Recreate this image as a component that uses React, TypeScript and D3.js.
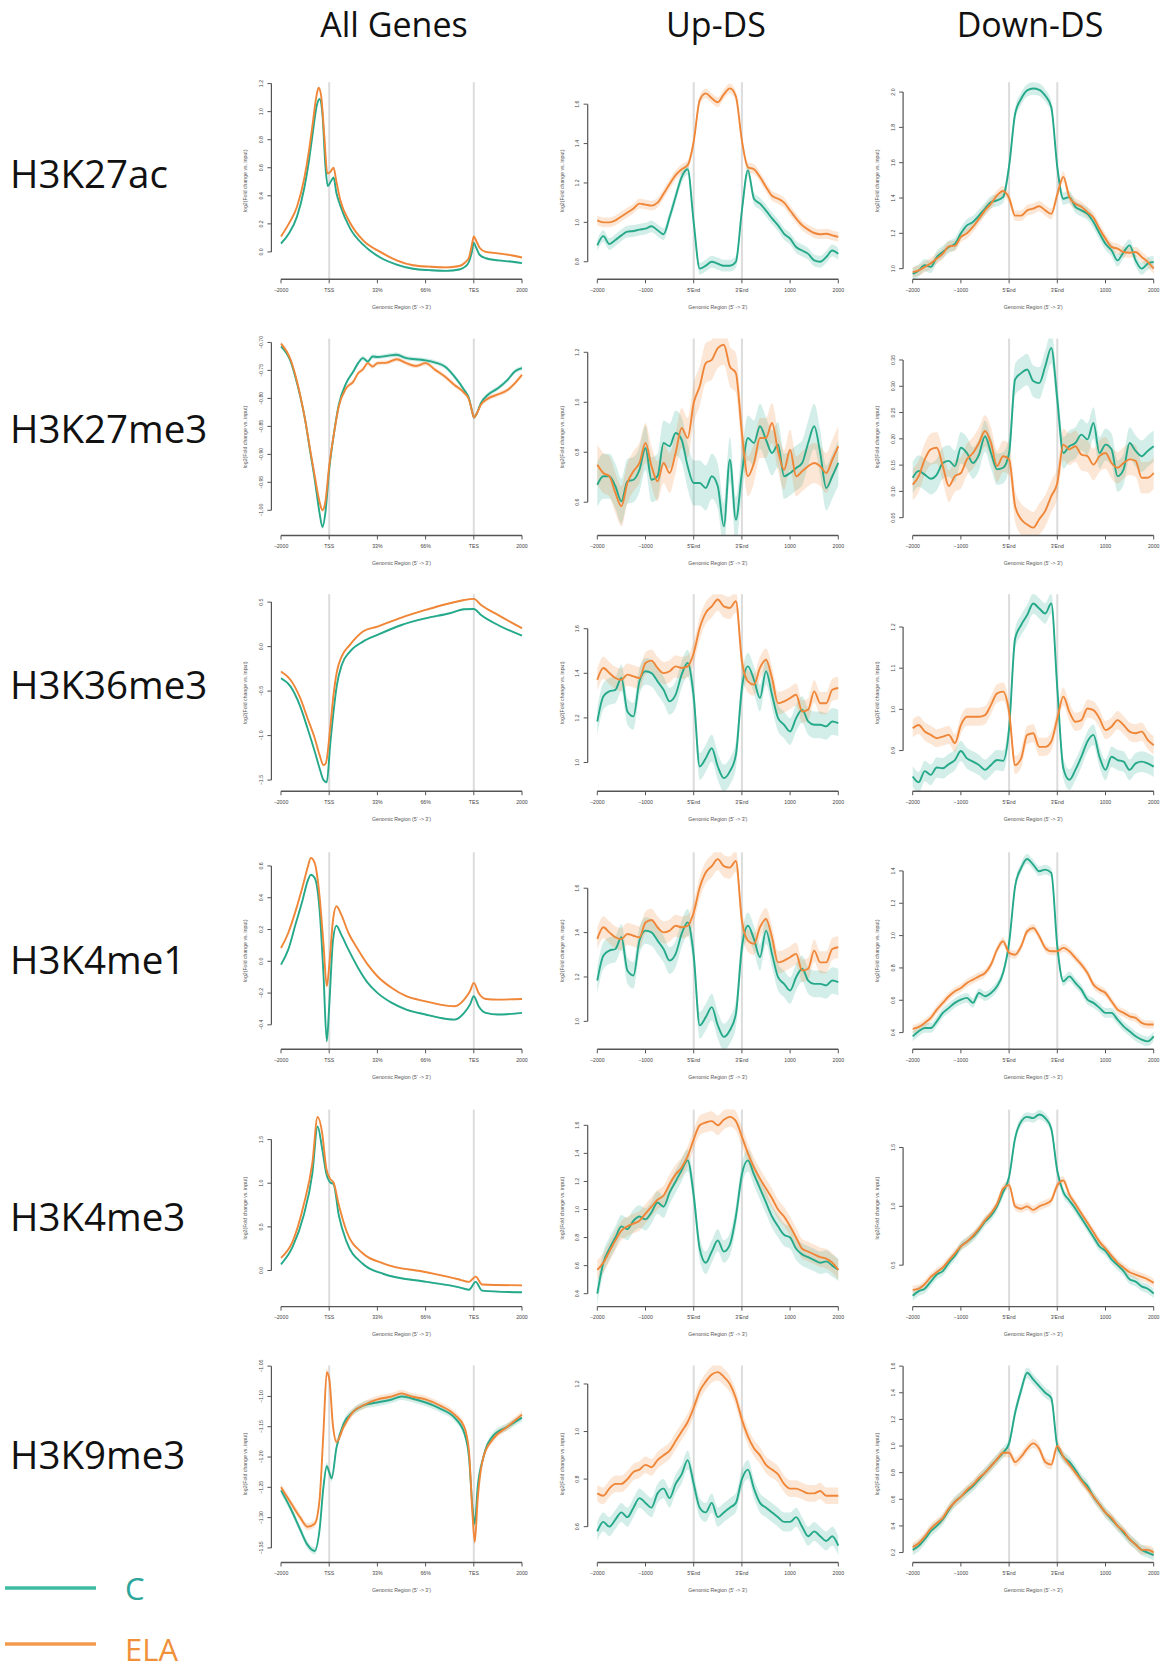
import React from "react";
import * as d3 from "d3";

type Pair = [number, number];

// Horizontal positions are in region units: 0 = -2000 bp, 1 = TSS / 5'End,
// 4 = TES / 3'End (all genes) or 3 = 3'End (flank panels), 5 = +2000 bp.
const MARKS = ["H3K27ac", "H3K27me3", "H3K36me3", "H3K4me1", "H3K4me3", "H3K9me3"];
const GROUPS = ["All Genes", "Up-DS", "Down-DS"];
const SAMPLES = ["C", "ELA"];
const ALL_GENES_TICKS = ["\u22122000", "TSS", "33%", "66%", "TES", "2000"];
const FLANK_TICKS = ["\u22122000", "\u22121000", "5'End", "3'End", "1000", "2000"];
const ALL_GENES_LINES = [1, 4];
const FLANK_LINES = [2, 3];

// ---------- All genes profiles (position, log2 FC) ----------
const H3K27ac_all_C: Pair[] = [[0,0.06],[0.16,0.13],[0.33,0.25],[0.48,0.45],[0.58,0.65],[0.66,0.85],[0.74,1.04],[0.8,1.09],[0.86,0.98],[0.92,0.62],[0.97,0.47],[1.03,0.5],[1.09,0.53],[1.15,0.42],[1.23,0.33],[1.43,0.17],[1.71,0.05],[2.06,-0.04],[2.4,-0.09],[2.74,-0.12],[3.09,-0.13],[3.43,-0.135],[3.7,-0.125],[3.82,-0.105],[3.9,-0.07],[3.96,0.0],[4.0,0.065],[4.05,0.03],[4.12,-0.02],[4.25,-0.045],[4.5,-0.06],[4.8,-0.07],[5.0,-0.08]];
const H3K27ac_all_ELA: Pair[] = [[0,0.11],[0.16,0.2],[0.33,0.32],[0.48,0.52],[0.58,0.72],[0.66,0.92],[0.73,1.1],[0.78,1.17],[0.83,1.12],[0.9,0.82],[0.96,0.56],[1.02,0.57],[1.09,0.6],[1.15,0.5],[1.23,0.37],[1.43,0.21],[1.71,0.08],[2.06,0.0],[2.4,-0.06],[2.74,-0.095],[3.09,-0.105],[3.43,-0.11],[3.7,-0.1],[3.82,-0.075],[3.9,-0.04],[3.96,0.05],[4.0,0.11],[4.05,0.08],[4.12,0.03],[4.25,0.0],[4.5,-0.01],[4.8,-0.025],[5.0,-0.04]];

const H3K27me3_all_C: Pair[] = [[0,-0.707],[0.2,-0.734],[0.35,-0.779],[0.5,-0.838],[0.6,-0.892],[0.7,-0.945],[0.8,-1.005],[0.86,-1.03],[0.92,-1.005],[1.0,-0.927],[1.1,-0.862],[1.2,-0.811],[1.35,-0.773],[1.5,-0.752],[1.6,-0.737],[1.7,-0.728],[1.8,-0.734],[1.9,-0.725],[2.0,-0.726],[2.2,-0.724],[2.4,-0.722],[2.6,-0.728],[2.8,-0.73],[3.0,-0.732],[3.2,-0.736],[3.4,-0.743],[3.6,-0.761],[3.8,-0.785],[3.9,-0.8],[3.97,-0.825],[4.0,-0.834],[4.05,-0.829],[4.15,-0.808],[4.3,-0.793],[4.5,-0.782],[4.7,-0.767],[4.85,-0.752],[5.0,-0.746]];
const H3K27me3_all_ELA: Pair[] = [[0,-0.702],[0.2,-0.731],[0.35,-0.776],[0.5,-0.838],[0.6,-0.889],[0.7,-0.939],[0.8,-0.985],[0.86,-1.0],[0.92,-0.985],[1.0,-0.921],[1.1,-0.862],[1.2,-0.814],[1.35,-0.782],[1.5,-0.77],[1.6,-0.755],[1.7,-0.748],[1.8,-0.737],[1.9,-0.743],[2.0,-0.737],[2.2,-0.736],[2.4,-0.73],[2.6,-0.737],[2.8,-0.742],[3.0,-0.737],[3.2,-0.749],[3.4,-0.761],[3.6,-0.776],[3.8,-0.79],[3.9,-0.802],[3.97,-0.825],[4.0,-0.834],[4.05,-0.829],[4.15,-0.811],[4.3,-0.8],[4.5,-0.793],[4.7,-0.785],[4.85,-0.773],[5.0,-0.758]];

const H3K36me3_all_C: Pair[] = [[0,-0.356],[0.2,-0.45],[0.4,-0.674],[0.55,-0.918],[0.7,-1.18],[0.8,-1.367],[0.88,-1.498],[0.95,-1.524],[1.02,-1.105],[1.09,-0.73],[1.16,-0.43],[1.26,-0.206],[1.43,-0.056],[1.7,0.056],[2.0,0.131],[2.5,0.243],[3.0,0.318],[3.5,0.375],[3.8,0.42],[4.0,0.423],[4.15,0.356],[4.5,0.243],[5.0,0.124]];
const H3K36me3_all_ELA: Pair[] = [[0,-0.28],[0.2,-0.375],[0.4,-0.58],[0.55,-0.805],[0.7,-1.03],[0.8,-1.217],[0.88,-1.33],[0.93,-1.31],[1.02,-0.92],[1.09,-0.54],[1.16,-0.28],[1.26,-0.11],[1.43,0.02],[1.7,0.169],[2.0,0.225],[2.5,0.326],[3.0,0.412],[3.5,0.487],[3.8,0.524],[4.0,0.536],[4.15,0.468],[4.5,0.356],[5.0,0.206]];

const H3K4me1_all_C: Pair[] = [[0,-0.021],[0.15,0.073],[0.3,0.231],[0.45,0.388],[0.55,0.503],[0.62,0.545],[0.7,0.524],[0.8,0.325],[0.88,-0.073],[0.95,-0.503],[1.0,-0.283],[1.08,0.136],[1.15,0.224],[1.25,0.168],[1.4,0.073],[1.6,-0.042],[1.8,-0.136],[2.0,-0.199],[2.3,-0.262],[2.6,-0.304],[3.0,-0.335],[3.3,-0.356],[3.6,-0.367],[3.8,-0.325],[3.92,-0.273],[4.0,-0.22],[4.1,-0.283],[4.25,-0.325],[4.5,-0.335],[5.0,-0.325]];
const H3K4me1_all_ELA: Pair[] = [[0,0.084],[0.15,0.178],[0.3,0.314],[0.45,0.472],[0.55,0.587],[0.62,0.65],[0.7,0.618],[0.8,0.409],[0.88,0.115],[0.95,-0.157],[1.0,-0.031],[1.08,0.262],[1.15,0.346],[1.25,0.294],[1.4,0.178],[1.6,0.073],[1.8,-0.021],[2.0,-0.094],[2.3,-0.168],[2.6,-0.22],[3.0,-0.252],[3.3,-0.273],[3.6,-0.283],[3.8,-0.241],[3.92,-0.189],[4.0,-0.136],[4.1,-0.2],[4.25,-0.237],[4.5,-0.241],[5.0,-0.237]];

const H3K4me3_all_C: Pair[] = [[0,0.07],[0.24,0.27],[0.47,0.63],[0.65,1.11],[0.76,1.65],[0.85,1.41],[0.94,1.11],[1.02,1.01],[1.09,0.99],[1.2,0.63],[1.36,0.33],[1.69,0.08],[2.13,-0.04],[3.02,-0.13],[3.68,-0.19],[3.9,-0.22],[4.04,-0.13],[4.17,-0.23],[5.0,-0.25]];
const H3K4me3_all_ELA: Pair[] = [[0,0.145],[0.24,0.33],[0.47,0.75],[0.65,1.23],[0.76,1.76],[0.85,1.59],[0.94,1.17],[1.02,1.05],[1.09,1.01],[1.2,0.75],[1.36,0.45],[1.69,0.2],[2.13,0.08],[3.02,-0.02],[3.68,-0.1],[3.9,-0.13],[4.04,-0.07],[4.17,-0.16],[5.0,-0.17]];

const H3K9me3_all_C: Pair[] = [[0,-1.255],[0.2,-1.285],[0.4,-1.32],[0.55,-1.345],[0.7,-1.355],[0.8,-1.32],[0.88,-1.25],[0.95,-1.215],[1.0,-1.225],[1.05,-1.235],[1.15,-1.185],[1.3,-1.145],[1.5,-1.125],[1.7,-1.115],[2.0,-1.11],[2.3,-1.105],[2.5,-1.1],[2.7,-1.103],[3.0,-1.11],[3.3,-1.12],[3.6,-1.135],[3.8,-1.16],[3.9,-1.2],[3.97,-1.28],[4.02,-1.31],[4.08,-1.25],[4.2,-1.2],[4.4,-1.165],[4.7,-1.15],[5.0,-1.135]];
const H3K9me3_all_ELA: Pair[] = [[0,-1.25],[0.2,-1.275],[0.4,-1.3],[0.55,-1.315],[0.7,-1.31],[0.8,-1.27],[0.88,-1.16],[0.95,-1.06],[1.0,-1.07],[1.08,-1.15],[1.15,-1.175],[1.3,-1.15],[1.5,-1.125],[1.7,-1.115],[2.0,-1.105],[2.3,-1.1],[2.5,-1.095],[2.7,-1.1],[3.0,-1.105],[3.3,-1.115],[3.6,-1.13],[3.8,-1.15],[3.9,-1.19],[3.97,-1.29],[4.02,-1.34],[4.08,-1.27],[4.2,-1.2],[4.4,-1.17],[4.7,-1.15],[5.0,-1.13]];

// ---------- Flank profiles: 41 samples, one every 0.125 region units ----------
const H3K27ac_up_C = [0.883,0.93,0.89,0.91,0.934,0.953,0.956,0.963,0.968,0.98,0.96,0.94,1.027,1.13,1.23,1.27,1.0,0.765,0.78,0.8,0.79,0.78,0.78,0.8,1.06,1.264,1.12,1.095,1.06,1.02,0.985,0.942,0.917,0.875,0.857,0.84,0.807,0.8,0.824,0.857,0.84];
const H3K27ac_up_ELA = [1.01,1.0,1.0,1.01,1.03,1.05,1.07,1.095,1.09,1.085,1.1,1.145,1.195,1.24,1.27,1.29,1.41,1.62,1.655,1.63,1.61,1.65,1.68,1.64,1.415,1.28,1.27,1.23,1.18,1.135,1.12,1.1,1.06,1.02,0.985,0.963,0.946,0.94,0.942,0.934,0.926];
const H3K27ac_down_C = [0.97,0.99,1.02,1.01,1.066,1.094,1.123,1.14,1.2,1.245,1.264,1.3,1.34,1.377,1.387,1.405,1.58,1.877,1.962,2.01,2.02,2.013,1.98,1.915,1.575,1.396,1.405,1.35,1.33,1.31,1.264,1.2,1.14,1.104,1.047,1.094,1.132,1.047,1.0,1.028,1.038];
const H3K27ac_down_ELA = [0.98,0.99,1.01,1.03,1.057,1.085,1.126,1.13,1.18,1.2,1.236,1.283,1.33,1.368,1.415,1.44,1.4,1.3,1.3,1.33,1.34,1.353,1.33,1.31,1.42,1.52,1.405,1.368,1.35,1.32,1.29,1.226,1.17,1.123,1.113,1.094,1.09,1.094,1.066,1.038,1.0];

const H3K27me3_up_C = [0.67,0.704,0.704,0.664,0.604,0.684,0.69,0.73,0.817,0.69,0.704,0.837,0.824,0.877,0.85,0.744,0.677,0.677,0.657,0.704,0.664,0.504,0.77,0.53,0.717,0.857,0.837,0.904,0.85,0.797,0.83,0.704,0.717,0.737,0.757,0.837,0.904,0.797,0.657,0.704,0.757];
const H3K27me3_up_ELA = [0.75,0.717,0.704,0.637,0.584,0.677,0.724,0.757,0.837,0.744,0.684,0.757,0.717,0.797,0.897,0.857,0.997,1.064,1.157,1.17,1.217,1.23,1.144,1.117,0.877,0.704,0.757,0.857,0.857,0.917,0.804,0.73,0.81,0.704,0.724,0.744,0.757,0.744,0.717,0.77,0.824];
const H3K27me3_down_C = [0.126,0.139,0.132,0.124,0.132,0.154,0.158,0.148,0.183,0.173,0.154,0.17,0.205,0.173,0.142,0.145,0.173,0.313,0.325,0.332,0.31,0.306,0.338,0.373,0.275,0.173,0.186,0.192,0.208,0.199,0.23,0.173,0.189,0.18,0.129,0.142,0.192,0.177,0.167,0.177,0.186];
const H3K27me3_down_ELA = [0.113,0.129,0.161,0.18,0.183,0.148,0.11,0.129,0.135,0.161,0.173,0.192,0.215,0.192,0.148,0.167,0.161,0.072,0.047,0.037,0.031,0.047,0.063,0.091,0.116,0.189,0.18,0.186,0.17,0.167,0.151,0.167,0.173,0.154,0.145,0.154,0.161,0.158,0.126,0.126,0.135];

const H3K36me3_up_C = [1.184,1.296,1.319,1.326,1.379,1.229,1.207,1.364,1.409,1.401,1.364,1.326,1.274,1.304,1.394,1.446,1.296,0.982,1.019,1.064,0.982,0.93,0.96,1.034,1.334,1.431,1.371,1.289,1.409,1.304,1.199,1.169,1.139,1.199,1.237,1.184,1.169,1.169,1.162,1.184,1.177];
const H3K36me3_up_ELA = [1.371,1.424,1.401,1.379,1.371,1.394,1.386,1.379,1.446,1.457,1.424,1.401,1.409,1.431,1.424,1.431,1.491,1.603,1.671,1.7,1.731,1.7,1.693,1.723,1.454,1.364,1.349,1.424,1.461,1.379,1.266,1.274,1.289,1.304,1.229,1.237,1.319,1.266,1.266,1.326,1.334];
const H3K36me3_down_C = [0.837,0.823,0.85,0.841,0.859,0.857,0.867,0.877,0.899,0.881,0.873,0.865,0.853,0.865,0.877,0.875,0.954,1.172,1.205,1.229,1.257,1.245,1.233,1.257,1.051,0.857,0.829,0.853,0.885,0.922,0.938,0.885,0.853,0.885,0.877,0.873,0.853,0.869,0.873,0.869,0.861];
const H3K36me3_down_ELA = [0.954,0.962,0.946,0.938,0.93,0.934,0.938,0.918,0.962,0.982,0.982,0.982,0.986,1.011,1.039,1.043,0.994,0.865,0.881,0.938,0.942,0.909,0.909,0.922,0.978,1.031,0.994,0.97,0.974,1.002,0.998,0.978,0.95,0.958,0.974,0.962,0.946,0.942,0.946,0.926,0.913];

const H3K4me1_up_C = H3K36me3_up_C;
const H3K4me1_up_ELA = H3K36me3_up_ELA;
const H3K4me1_down_C = [0.377,0.408,0.429,0.429,0.47,0.522,0.553,0.584,0.604,0.615,0.584,0.645,0.625,0.645,0.687,0.769,0.955,1.305,1.419,1.474,1.439,1.398,1.408,1.388,0.934,0.718,0.748,0.707,0.666,0.604,0.584,0.553,0.522,0.522,0.48,0.439,0.408,0.377,0.357,0.346,0.377];
const H3K4me1_down_ELA = [0.423,0.435,0.46,0.491,0.542,0.584,0.625,0.656,0.676,0.707,0.728,0.748,0.769,0.821,0.913,0.965,0.893,0.882,0.934,1.027,1.047,0.996,0.924,0.903,0.903,0.924,0.903,0.862,0.821,0.769,0.697,0.666,0.645,0.594,0.542,0.522,0.501,0.491,0.46,0.45,0.45];

const H3K4me3_up_C = [0.4,0.62,0.72,0.8,0.88,0.86,0.92,0.95,0.93,0.98,1.05,1.02,1.12,1.2,1.28,1.35,1.1,0.72,0.62,0.7,0.78,0.7,0.75,0.95,1.25,1.35,1.25,1.15,1.05,0.95,0.88,0.82,0.8,0.72,0.68,0.66,0.64,0.62,0.63,0.6,0.57];
const H3K4me3_up_ELA = [0.57,0.62,0.7,0.78,0.85,0.88,0.9,0.92,0.97,1.02,1.07,1.1,1.18,1.25,1.3,1.38,1.5,1.6,1.62,1.63,1.6,1.64,1.66,1.63,1.52,1.4,1.3,1.22,1.15,1.08,1.0,0.95,0.88,0.8,0.72,0.7,0.68,0.66,0.65,0.62,0.57];
const H3K4me3_down_C = [0.24,0.28,0.3,0.36,0.42,0.45,0.52,0.58,0.66,0.7,0.74,0.8,0.87,0.92,1.0,1.12,1.25,1.58,1.72,1.76,1.75,1.78,1.75,1.66,1.3,1.12,1.05,0.98,0.9,0.82,0.74,0.66,0.62,0.55,0.5,0.45,0.38,0.36,0.32,0.3,0.26];
const H3K4me3_down_ELA = [0.29,0.3,0.34,0.4,0.44,0.48,0.54,0.6,0.66,0.7,0.75,0.81,0.88,0.94,1.02,1.15,1.18,1.0,0.98,1.0,0.97,1.0,1.02,1.05,1.18,1.22,1.1,1.02,0.94,0.86,0.78,0.7,0.64,0.58,0.52,0.48,0.44,0.42,0.4,0.38,0.35];

const H3K9me3_up_C = [0.58,0.62,0.6,0.63,0.66,0.64,0.68,0.72,0.7,0.68,0.74,0.76,0.72,0.78,0.82,0.88,0.78,0.68,0.66,0.7,0.64,0.66,0.68,0.7,0.8,0.84,0.76,0.7,0.68,0.66,0.64,0.62,0.62,0.64,0.6,0.56,0.58,0.56,0.54,0.56,0.52];
const H3K9me3_up_ELA = [0.74,0.73,0.76,0.78,0.78,0.8,0.83,0.84,0.86,0.85,0.88,0.9,0.92,0.96,1.0,1.04,1.1,1.17,1.21,1.24,1.25,1.23,1.2,1.14,1.05,0.98,0.93,0.9,0.86,0.84,0.82,0.78,0.76,0.76,0.75,0.74,0.74,0.75,0.73,0.73,0.73];
const H3K9me3_down_C = [0.22,0.25,0.3,0.36,0.4,0.45,0.52,0.58,0.62,0.66,0.7,0.75,0.8,0.85,0.9,0.95,1.02,1.25,1.42,1.55,1.5,1.45,1.4,1.36,1.0,0.92,0.88,0.82,0.75,0.7,0.62,0.56,0.5,0.45,0.4,0.35,0.3,0.26,0.22,0.2,0.18];
const H3K9me3_down_ELA = [0.24,0.27,0.32,0.38,0.42,0.46,0.53,0.58,0.62,0.67,0.71,0.76,0.8,0.85,0.9,0.95,0.95,0.88,0.92,0.98,1.02,0.98,0.88,0.86,1.0,0.92,0.86,0.8,0.74,0.68,0.62,0.56,0.5,0.46,0.4,0.36,0.3,0.26,0.22,0.22,0.2];

// ---------- Y axis tick values per panel ----------
const TICKS_K27ac = [[0, 0.2, 0.4, 0.6, 0.8, 1.0, 1.2], [0.8, 1.0, 1.2, 1.4, 1.6], [1.0, 1.2, 1.4, 1.6, 1.8, 2.0]];
const TICKS_K27me3 = [[-1.0, -0.95, -0.9, -0.85, -0.8, -0.75, -0.7], [0.6, 0.8, 1.0, 1.2], [0.05, 0.1, 0.15, 0.2, 0.25, 0.3, 0.35]];
const TICKS_K36me3 = [[-1.5, -1.0, -0.5, 0.0, 0.5], [1.0, 1.2, 1.4, 1.6], [0.9, 1.0, 1.1, 1.2]];
const TICKS_K4me1 = [[-0.4, -0.2, 0.0, 0.2, 0.4, 0.6], [1.0, 1.2, 1.4, 1.6], [0.4, 0.6, 0.8, 1.0, 1.2, 1.4]];
const TICKS_K4me3 = [[0.0, 0.5, 1.0, 1.5], [0.4, 0.6, 0.8, 1.0, 1.2, 1.4, 1.6], [0.5, 1.0, 1.5]];
const TICKS_K9me3 = [[-1.35, -1.3, -1.25, -1.2, -1.15, -1.1, -1.05], [0.6, 0.8, 1.0, 1.2], [0.2, 0.4, 0.6, 0.8, 1.0, 1.2, 1.4, 1.6]];

// Data range of each panel (value at bottom, value at top of the drawn range)
const RANGE_K27ac = [[-0.143, 1.157], [0.748, 1.674], [0.981, 2.014]];
const RANGE_K27me3 = [[-1.032, -0.706], [0.496, 1.226], [0.03, 0.377]];
const RANGE_K36me3 = [[-1.543, 0.507], [0.904, 1.722], [0.819, 1.262]];
const RANGE_K4me1 = [[-0.508, 0.64], [0.907, 1.729], [0.342, 1.47]];
const RANGE_K4me3 = [[-0.33, 1.76], [0.36, 1.66], [0.21, 1.76]];
const RANGE_K9me3 = [[-1.362, -1.061], [0.48, 1.247], [0.18, 1.55]];

// Half-width of the standard error band [C, ELA] per panel
const SE_K27ac = [[0.008, 0.008], [0.03, 0.025], [0.035, 0.03]];
const SE_K27me3 = [[0.004, 0.004], [0.09, 0.08], [0.03, 0.03]];
const SE_K36me3 = [[0.01, 0.01], [0.06, 0.05], [0.025, 0.022]];
const SE_K4me1 = [[0.005, 0.005], [0.06, 0.05], [0.03, 0.025]];
const SE_K4me3 = [[0.01, 0.01], [0.08, 0.07], [0.04, 0.035]];
const SE_K9me3 = [[0.006, 0.006], [0.04, 0.035], [0.04, 0.035]];

// ---------- Layout ----------
const W = 1168;
const H = 1671;
const COL_LEFT = [281, 597.3, 912.7];
const SPAN = 241;
const AXIS_Y = [279.3, 535.5, 791.2, 1049.3, 1306.6, 1562.5];
const PLOT_H = 197;
const PAD_X = 9.6;
const PAD_Y = 7.3;
const HEADER_X = [394, 716, 1030];
const ROW_LABEL_Y = [173.7, 429.5, 685.2, 960.2, 1217, 1454.7];

const C_COLOR = "#25a98a";
const ELA_COLOR = "#ef8638";
const FLANK_POS = d3.range(41).map((i) => i * 0.125);

type Series = Pair[] | number[];
interface PanelSpec {
  row: number;
  col: number;
  c: Series;
  ela: Series;
  se: number[];
  range: number[];
  ticks: number[];
}

const rowData: [Series, Series][][] = [
  [[H3K27ac_all_C, H3K27ac_all_ELA], [H3K27ac_up_C, H3K27ac_up_ELA], [H3K27ac_down_C, H3K27ac_down_ELA]],
  [[H3K27me3_all_C, H3K27me3_all_ELA], [H3K27me3_up_C, H3K27me3_up_ELA], [H3K27me3_down_C, H3K27me3_down_ELA]],
  [[H3K36me3_all_C, H3K36me3_all_ELA], [H3K36me3_up_C, H3K36me3_up_ELA], [H3K36me3_down_C, H3K36me3_down_ELA]],
  [[H3K4me1_all_C, H3K4me1_all_ELA], [H3K4me1_up_C, H3K4me1_up_ELA], [H3K4me1_down_C, H3K4me1_down_ELA]],
  [[H3K4me3_all_C, H3K4me3_all_ELA], [H3K4me3_up_C, H3K4me3_up_ELA], [H3K4me3_down_C, H3K4me3_down_ELA]],
  [[H3K9me3_all_C, H3K9me3_all_ELA], [H3K9me3_up_C, H3K9me3_up_ELA], [H3K9me3_down_C, H3K9me3_down_ELA]],
];
const rowTicks = [TICKS_K27ac, TICKS_K27me3, TICKS_K36me3, TICKS_K4me1, TICKS_K4me3, TICKS_K9me3];
const rowRanges = [RANGE_K27ac, RANGE_K27me3, RANGE_K36me3, RANGE_K4me1, RANGE_K4me3, RANGE_K9me3];
const rowSE = [SE_K27ac, SE_K27me3, SE_K36me3, SE_K4me1, SE_K4me3, SE_K9me3];

const PANELS: PanelSpec[] = [];
rowData.forEach((cols, row) =>
  cols.forEach(([c, ela], col) =>
    PANELS.push({ row, col, c, ela, se: rowSE[row][col], range: rowRanges[row][col], ticks: rowTicks[row][col] })
  )
);

function toPairs(s: Series): Pair[] {
  if (typeof s[0] === "number") return (s as number[]).map((v, i) => [FLANK_POS[i], v] as Pair);
  return s as Pair[];
}

function tickText(v: number, ticks: number[]): string {
  const needs2 = ticks.some((t) => Math.abs(Math.round(t * 10) - t * 10) > 1e-6);
  const s = d3.format(needs2 ? ".2f" : ".1f")(v);
  return s.replace("-", "\u2212");
}

const tinyFont = "'Liberation Sans', Arial, sans-serif";

function ProfilePanel({ spec }: { spec: PanelSpec }) {
  const { row, col } = spec;
  const left = COL_LEFT[col];
  const axisY = AXIS_Y[row];
  const top = axisY - PLOT_H;
  const plotL = left - PAD_X;
  const plotR = left + SPAN + PAD_X;
  const x = d3.scaleLinear().domain([0, 5]).range([left, left + SPAN]);
  const y = d3.scaleLinear().domain(spec.range).range([axisY - PAD_Y, top + PAD_Y]);
  const clipId = `clip-${row}-${col}`;
  const xLabels = col === 0 ? ALL_GENES_TICKS : FLANK_TICKS;
  const vLines = col === 0 ? ALL_GENES_LINES : FLANK_LINES;
  const curve = d3.curveMonotoneX;

  const series = [
    { pts: toPairs(spec.c), se: spec.se[0], color: C_COLOR },
    { pts: toPairs(spec.ela), se: spec.se[1], color: ELA_COLOR },
  ];
  const line = d3.line<Pair>().x((d) => x(d[0])).y((d) => y(d[1])).curve(curve);
  const band = (se: number) =>
    d3.area<Pair>().x((d) => x(d[0])).y0((d) => y(d[1] - se)).y1((d) => y(d[1] + se)).curve(curve);

  const ticks = spec.ticks;
  const yTop = y(ticks[ticks.length - 1]);
  const yBot = y(ticks[0]);
  const midY = (top + axisY) / 2;

  return (
    <g>
      <defs>
        <clipPath id={clipId}>
          <rect x={plotL} y={top} width={plotR - plotL} height={PLOT_H} />
        </clipPath>
      </defs>
      {vLines.map((v) => (
        <line key={v} x1={x(v)} x2={x(v)} y1={top} y2={axisY} stroke="#dcdcdc" strokeWidth={2} />
      ))}
      <g clipPath={`url(#${clipId})`}>
        {series.map((s, i) => (
          <path key={`b${i}`} d={band(s.se)(s.pts) || ""} fill={s.color} fillOpacity={0.2} stroke="none" />
        ))}
        {series.map((s, i) => (
          <path key={`l${i}`} d={line(s.pts) || ""} fill="none" stroke={s.color} strokeWidth={1.9} strokeLinejoin="round" />
        ))}
      </g>
      {/* x axis */}
      <line x1={x(0)} x2={x(5)} y1={axisY} y2={axisY} stroke="#555" strokeWidth={1.4} />
      {xLabels.map((lab, i) => (
        <g key={lab}>
          <line x1={x(i)} x2={x(i)} y1={axisY} y2={axisY + 4} stroke="#555" strokeWidth={1} />
          <text x={x(i)} y={axisY + 12.5} fontSize={5.2} textAnchor="middle" fill="#444" fontFamily={tinyFont}>
            {lab}
          </text>
        </g>
      ))}
      <text x={(plotL + plotR) / 2} y={axisY + 29.5} fontSize={5.2} textAnchor="middle" fill="#555" fontFamily={tinyFont}>
        {"Genomic Region (5' -> 3')"}
      </text>
      {/* y axis */}
      <line x1={plotL} x2={plotL} y1={yTop} y2={yBot} stroke="#555" strokeWidth={1.2} />
      {ticks.map((t) => (
        <g key={t}>
          <line x1={plotL - 4} x2={plotL} y1={y(t)} y2={y(t)} stroke="#555" strokeWidth={1} />
          <text
            transform={`translate(${plotL - 8.5},${y(t)}) rotate(-90)`}
            fontSize={5.2}
            textAnchor="middle"
            fill="#444"
            fontFamily={tinyFont}
          >
            {tickText(t, ticks)}
          </text>
        </g>
      ))}
      <text
        transform={`translate(${plotL - 24},${midY}) rotate(-90)`}
        fontSize={5.2}
        textAnchor="middle"
        fill="#555"
        fontFamily={tinyFont}
      >
        log2(Fold change vs. input)
      </text>
    </g>
  );
}

export default function App() {
  const bigFont = "'Open Sans', 'Noto Sans', sans-serif";
  return (
    <svg
      width={W}
      height={H}
      viewBox={`0 0 ${W} ${H}`}
      style={{ position: "absolute", left: 0, top: 0, background: "#ffffff" }}
    >
      <rect x={0} y={0} width={W} height={H} fill="#ffffff" />
      {GROUPS.map((g, i) => (
        <text key={g} x={HEADER_X[i]} y={37} fontSize={34} textAnchor="middle" fill="#111" fontFamily={bigFont}>
          {g}
        </text>
      ))}
      {MARKS.map((m, i) => (
        <text key={m} x={10} y={ROW_LABEL_Y[i]} dy="0.36em" fontSize={38.5} fill="#111" fontFamily={bigFont}>
          {m}
        </text>
      ))}
      {PANELS.map((p) => (
        <ProfilePanel key={`${p.row}-${p.col}`} spec={p} />
      ))}
      {/* legend */}
      {SAMPLES.map((s, i) => {
        const ly = [1588, 1644][i];
        const color = i === 0 ? "#3dbba3" : "#f39a4c";
        return (
          <g key={s}>
            <line x1={5} x2={96} y1={ly} y2={ly} stroke={color} strokeWidth={3.5} />
            <text x={125} y={ly + [1, 6][i]} dy="0.36em" fontSize={31} fill={i === 0 ? "#2ea59a" : "#f0913a"} fontFamily={bigFont}>
              {s}
            </text>
          </g>
        );
      })}
    </svg>
  );
}
